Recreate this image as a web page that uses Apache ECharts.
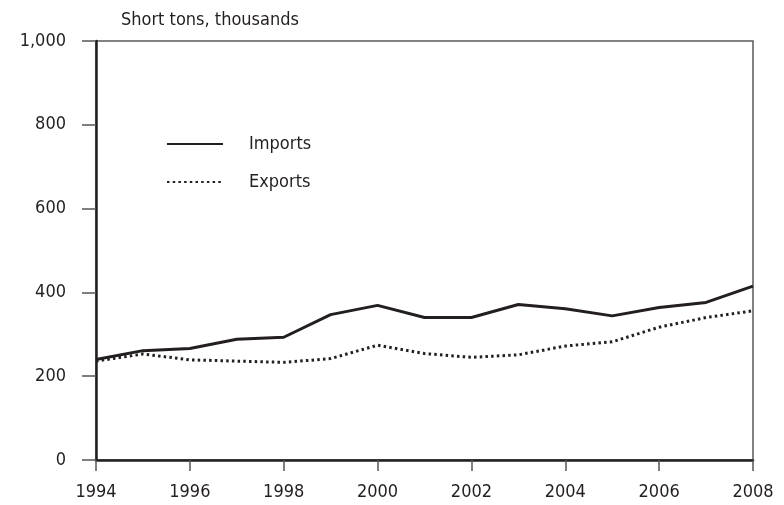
<!DOCTYPE html>
<html>
<head>
<meta charset="utf-8">
<script src="https://cdn.jsdelivr.net/npm/echarts@6/dist/echarts.min.js"></script>
<style>
html,body{margin:0;padding:0;background:#fff;}
#chart{width:784px;height:505px;}
</style>
</head>
<body>
<div id="chart"></div>
<script>
var years = [1994,1995,1996,1997,1998,1999,2000,2001,2002,2003,2004,2005,2006,2007,2008];
var imports = [240,261,266,288,293,347,369,340,340,371,361,344,364,376,415];
var exports = [236,253,239,236,233,242,274,254,245,251,272,282,317,340,356];
var yTicks = [0,200,400,600,800,1000];
var unitLabel = 'Short tons, thousands';

var FONT = '"Liberation Sans Narrow","DejaVu Sans Condensed","Roboto",sans-serif';
var TXT = '#231f20';
var chart = echarts.init(document.getElementById('chart'), null, {renderer:'canvas'});
chart.setOption({
  animation:false,
  backgroundColor:'#fff',
  textStyle:{fontFamily:FONT},
  title:{
    text:unitLabel, left:116, top:6,
    textStyle:{fontFamily:FONT,fontSize:18,fontWeight:'normal',color:TXT}
  },
  grid:{left:96,right:31,top:41,bottom:45,show:true,borderColor:'#5a5a5a',borderWidth:1.5,backgroundColor:'transparent'},
  legend:{
    orient:'vertical', left:161, top:129,
    itemWidth:56, itemHeight:20, itemGap:18,
    itemStyle:{opacity:0},
    textStyle:{fontFamily:FONT,fontSize:18,color:TXT,padding:[0,0,0,21],lineHeight:20},
    data:['Imports','Exports']
  },
  xAxis:{
    type:'value', min:1994, max:2008, interval:2,
    axisLine:{show:true,onZero:false,lineStyle:{color:'#231f20',width:2.5}},
    axisTick:{show:true,length:11,lineStyle:{color:'#555',width:1.5}},
    axisLabel:{margin:23,fontFamily:FONT,fontSize:18,color:TXT,formatter:function(v){return String(v);}},
    splitLine:{show:false}
  },
  yAxis:{
    type:'value', min:0, max:1000, interval:200,
    axisLine:{show:true,lineStyle:{color:'#231f20',width:2.5}},
    axisTick:{show:true,length:14,lineStyle:{color:'#555',width:1.5}},
    axisLabel:{margin:30,fontFamily:FONT,fontSize:18,color:TXT,formatter:function(v){return v.toLocaleString('en-US');}},
    splitLine:{show:false}
  },
  series:[
    {name:'Imports',type:'line',symbol:'none',data:years.map(function(y,i){return [y,imports[i]];}),
     lineStyle:{color:'#231f20',width:3},itemStyle:{color:'#231f20'}},
    {name:'Exports',type:'line',symbol:'none',data:years.map(function(y,i){return [y,exports[i]];}),
     lineStyle:{color:'#231f20',width:3,type:[2.5,3.2],cap:'butt'},itemStyle:{color:'#231f20'}}
  ]
});
</script>
</body>
</html>
